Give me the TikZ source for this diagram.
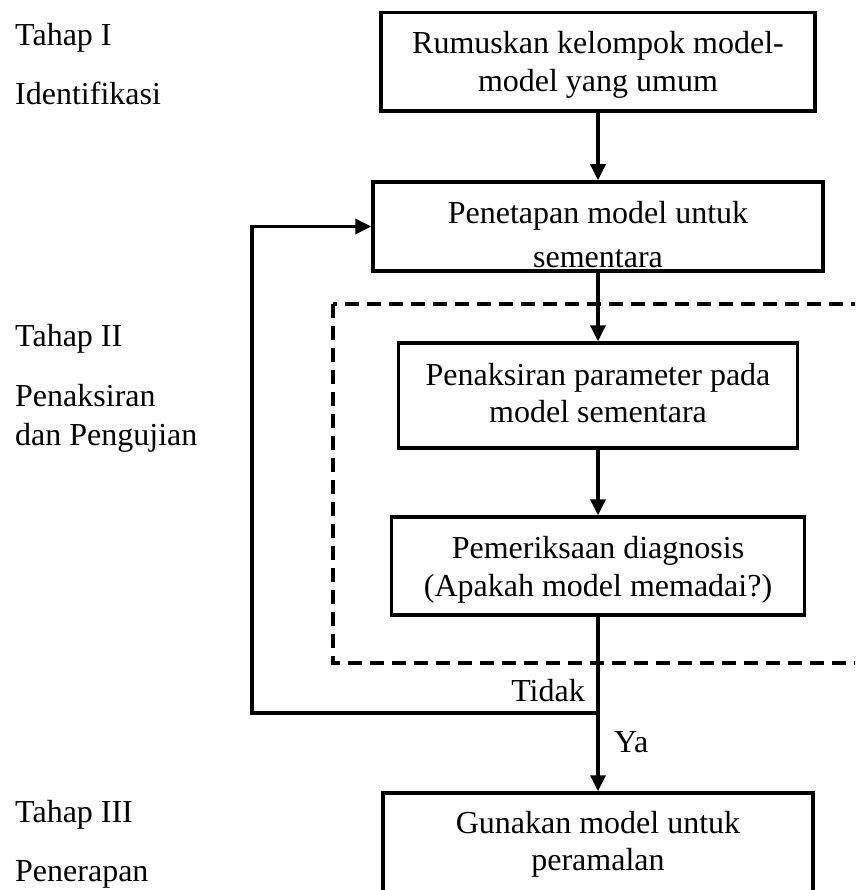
\documentclass[tikz,border=0pt]{standalone}
\usepackage{fontspec}
\setmainfont{Liberation Serif}
\usetikzlibrary{arrows.meta}
\begin{document}
\begin{tikzpicture}[x=1pt,y=-1pt,
  box/.style={draw, line width=3.5pt, inner sep=0pt},
  txt/.style={anchor=north, inner sep=0pt, align=center, font=\fontsize{32}{37.5}\selectfont},
  lbl/.style={anchor=base west, inner sep=0pt, font=\fontsize{32}{37.5}\selectfont},
  conn/.style={line width=3.5pt, -{Triangle[length=16pt,width=15pt]}},
  dashframe/.style={line width=3.5pt, dash pattern=on 14pt off 8pt}]
\useasboundingbox (0,0) rectangle (855,890);
\clip (0,0) rectangle (855,890);

% left stage labels
\node[lbl] (s1) at (15,46) {Tahap I};
\node[lbl] (s1b) at (15,105) {Identifikasi};
\node[lbl] (s2) at (15,346) {Tahap II};
\node[lbl] (s2b) at (15,406) {Penaksiran};
\node[lbl] (s2c) at (15,445) {dan Pengujian};
\node[lbl] (s3) at (15,822) {Tahap III};
\node[lbl] (s3b) at (15,881) {Penerapan};

% dashed frame (right side beyond the picture)
\draw[dashframe] (333,304) rectangle (900,663);

% box texts
\node[txt] (t1) at (598,12.5) {\rule{0pt}{41pt}Rumuskan kelompok model-\\model yang umum};
\node[txt] (t2) at (598,182) {\rule{0pt}{41pt}Penetapan model untuk\\[7pt]sementara};
\node[txt] (t3) at (598,343) {\rule{0pt}{42pt}Penaksiran parameter pada\\model sementara};
\node[txt] (t4) at (598,517) {\rule{0pt}{41pt}Pemeriksaan diagnosis\\[1pt](Apakah model memadai?)};
\node[txt] (t5) at (598,793) {\rule{0pt}{40pt}Gunakan model untuk\\peramalan};

% boxes (drawn over the texts)
\node[box, fill=none, minimum width=434pt, minimum height=98.5pt] (b1) at (598,61.75) {};
\node[box, minimum width=450pt, minimum height=89pt] (b2) at (598,226.5) {};
\node[box, minimum width=399pt, minimum height=105pt] (b3) at (598,395.5) {};
\node[box, minimum width=413pt, minimum height=98pt] (b4) at (598,566) {};
\node[box, minimum width=430pt, minimum height=117pt] (b5) at (598,851.5) {};

% connectors
\draw[conn] (b1) -- (b2);
\draw[conn] (b2) -- (b3);
\draw[conn] (b3) -- (b4);
\draw[conn] (b4) -- (b5);
\coordinate (j) at (598,713);
\coordinate (lc) at (252,713);
\draw[conn] (j) -- (lc) |- (b2.west);

% decision labels
\node[anchor=base east, inner sep=0pt, font=\fontsize{32}{37.5}\selectfont] (tidak) at (585,701) {Tidak};
\node[anchor=base west, inner sep=0pt, font=\fontsize{32}{37.5}\selectfont] (ya) at (614,752) {Ya};
\end{tikzpicture}
\end{document}
